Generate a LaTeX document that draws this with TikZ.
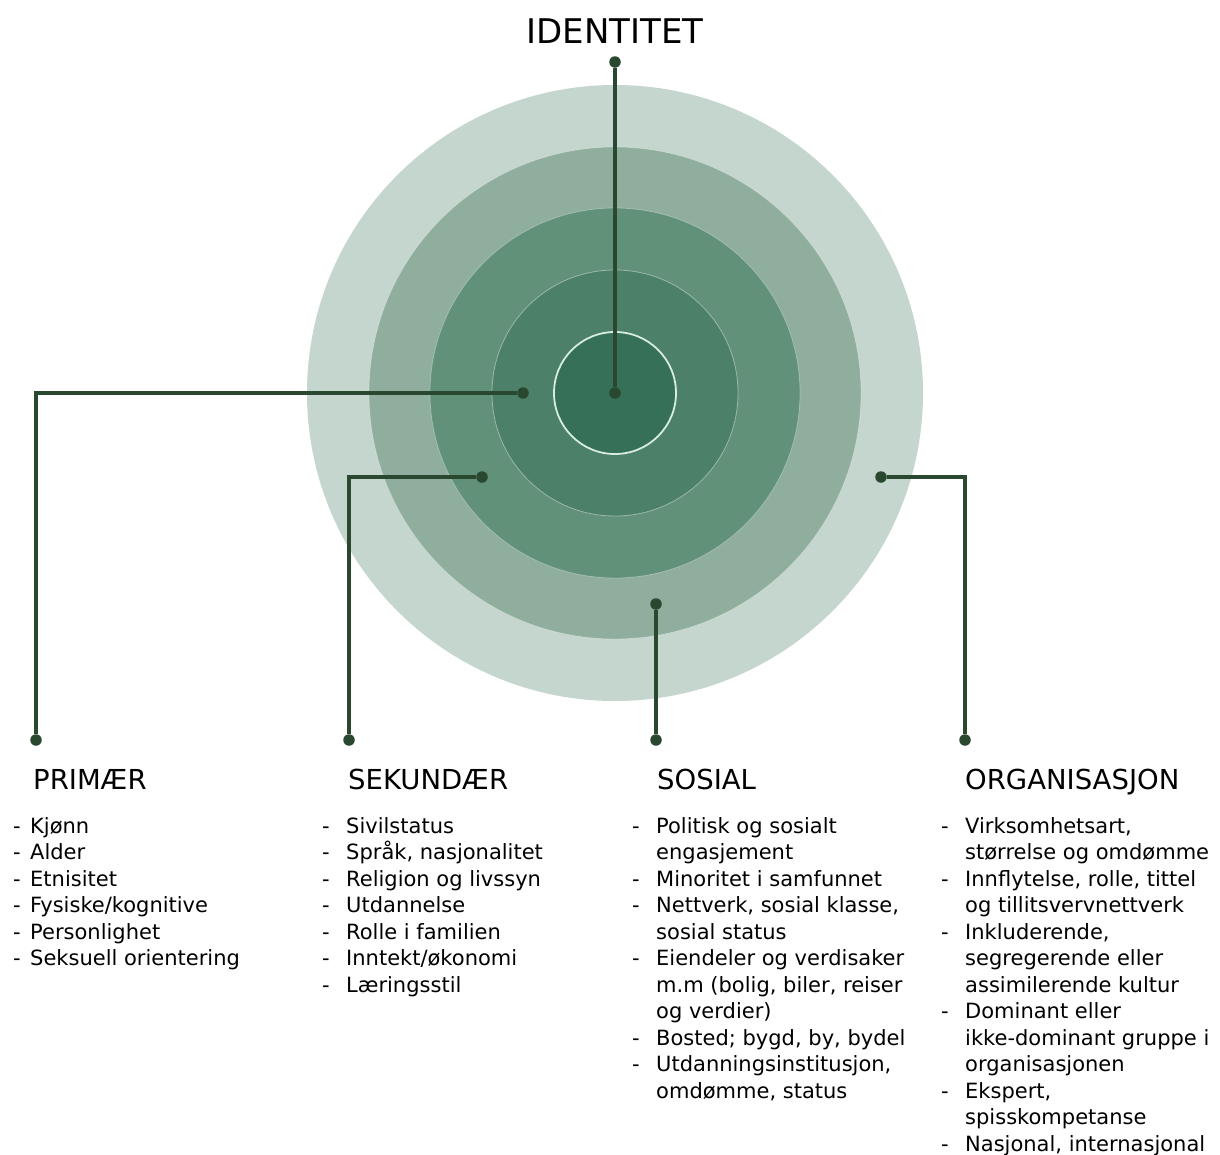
\documentclass[tikz,border=0pt]{standalone}
\usepackage{fontspec}
\setmainfont{DejaVu Sans}
\usetikzlibrary{positioning}

\definecolor{ringA}{RGB}{196,214,205}
\definecolor{ringB}{RGB}{143,174,158}
\definecolor{ringC}{RGB}{98,145,122}
\definecolor{ringD}{RGB}{76,128,104}
\definecolor{ringE}{RGB}{54,112,88}
\definecolor{linegreen}{RGB}{42,72,48}

\tikzset{
  dot/.style={circle,fill=linegreen,inner sep=0pt,minimum size=11.5pt},
  link/.style={draw=linegreen,line width=3.2pt},
  head/.style={anchor=base west,inner sep=0pt,font=\fontsize{27.5}{30}\selectfont},
  list/.style={anchor=north west,inner sep=0pt,align=left,font=\fontsize{21}{26.5}\selectfont},
}
\newcommand{\listdash}{\makebox[24pt][l]{-}}
\newcommand{\listgap}{\hspace*{24pt}}

\begin{document}
\begin{tikzpicture}[x=1pt,y=-1pt]
\useasboundingbox (0,0) rectangle (1220,1154);

% rings, outermost first
\fill[ringA] (615,393) circle (308);
\fill[ringB,draw=white,draw opacity=0.3,line width=0.8pt] (615,393) circle (246);
\fill[ringC,draw=white,draw opacity=0.3,line width=0.8pt] (615,393) circle (185);
\fill[ringD,draw=white,draw opacity=0.4,line width=0.8pt] (615,393) circle (123);
\fill[ringE,draw={rgb,255:red,214;green,236;blue,222},line width=1.8pt] (615,393) circle (61);

% title
\node[font=\fontsize{34}{36}\selectfont] (title) at (615,31) {IDENTITET};

% end points of the connectors
\node[dot] (top) at (615,62) {};
\node[dot] (core) at (615,393) {};
\node[dot] (prim) at (523,393) {};
\node[dot] (sek) at (482,477) {};
\node[dot] (sos) at (656,604) {};
\node[dot] (org) at (881,477) {};
\node[dot] (primend) at (36,740) {};
\node[dot] (sekend) at (349,740) {};
\node[dot] (sosend) at (656,740) {};
\node[dot] (orgend) at (965,740) {};

\draw[link] (top) -- (core);
\draw[link] (prim) -| (primend);
\draw[link] (sek) -| (sekend);
\draw[link] (sos) -- (sosend);
\draw[link] (org) -| (orgend);

% column headings
\node[head] (primhead) at (33,789) {PRIMÆR};
\node[head] (sekhead) at (348,789) {SEKUNDÆR};
\node[head] (soshead) at (657,789) {SOSIAL};
\node[head] (orghead) at (965,789) {ORGANISASJON};

% column lists
\node[list] (primlist) at (13,817) {%
\makebox[17pt][l]{-}Kjønn\\
\makebox[17pt][l]{-}Alder\\
\makebox[17pt][l]{-}Etnisitet\\
\makebox[17pt][l]{-}Fysiske/kognitive\\
\makebox[17pt][l]{-}Personlighet\\
\makebox[17pt][l]{-}Seksuell orientering};

\node[list] (seklist) at (322,817) {%
\listdash Sivilstatus\\
\listdash Språk, nasjonalitet\\
\listdash Religion og livssyn\\
\listdash Utdannelse\\
\listdash Rolle i familien\\
\listdash Inntekt/økonomi\\
\listdash Læringsstil};

\node[list] (soslist) at (632,817) {%
\listdash Politisk og sosialt\\
\listgap engasjement\\
\listdash Minoritet i samfunnet\\
\listdash Nettverk, sosial klasse,\\
\listgap sosial status\\
\listdash Eiendeler og verdisaker\\
\listgap m.m (bolig, biler, reiser\\
\listgap og verdier)\\
\listdash Bosted; bygd, by, bydel\\
\listdash Utdanningsinstitusjon,\\
\listgap omdømme, status};

\node[list] (orglist) at (941,817) {%
\listdash Virksomhetsart,\\
\listgap størrelse og omdømme\\
\listdash Innflytelse, rolle, tittel\\
\listgap og tillitsvervnettverk\\
\listdash Inkluderende,\\
\listgap segregerende eller\\
\listgap assimilerende kultur\\
\listdash Dominant eller\\
\listgap ikke-dominant gruppe i\\
\listgap organisasjonen\\
\listdash Ekspert,\\
\listgap spisskompetanse\\
\listdash Nasjonal, internasjonal};
\end{tikzpicture}
\end{document}
